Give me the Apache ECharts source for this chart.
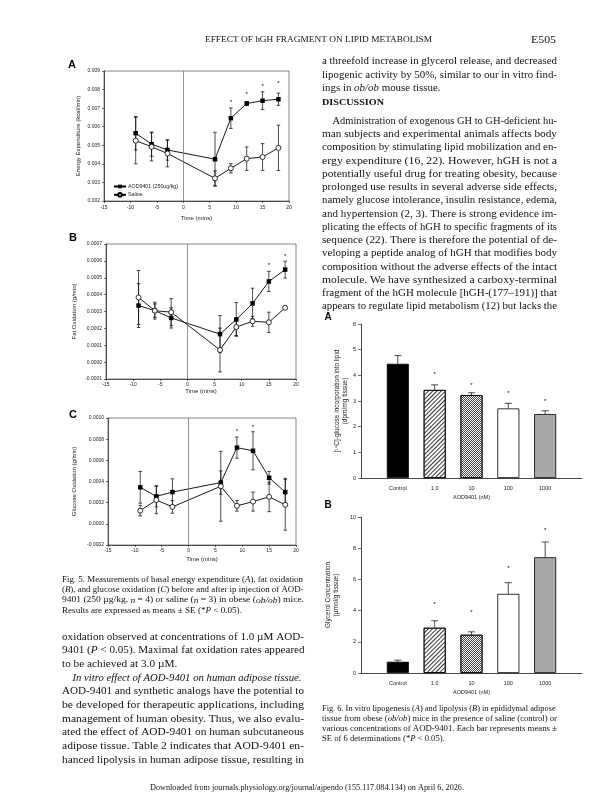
<!DOCTYPE html>
<html>
<head>
<meta charset="utf-8">
<script src="https://cdn.jsdelivr.net/npm/echarts@6.0.0/dist/echarts.min.js"></script>
<style>
  html, body { margin: 0; padding: 0; background: #fff; }
  #page { width: 616px; height: 800px; }
</style>
</head>
<body>
<div id="page"></div>
<script>
// ---- Fig. 5 data (time in minutes relative to injection) ----
const times = [-9, -6, -3, 6, 9, 12, 15, 18];

const energyAod = [0.00565, 0.00506, 0.00475, 0.00425, 0.00646, 0.00725, 0.0074, 0.00748];
const energyAodSe = [0.0009, 0.00065, 0.00055, 0.00145, 0.00055, 0.0001, 0.00048, 0.00033];
const energySal = [0.00525, 0.00492, 0.00456, 0.00322, 0.00376, 0.00428, 0.00437, 0.00486];
const energySalSe = [0.00125, 0.00076, 0.00072, 0.0004, 0.00025, 0.00063, 0.00072, 0.00122];
const energyStars = [null, null, null, null, 0.00729, 0.00776, 0.00817, 0.00835];

const fatAod = [0.000335, 0.000305, 0.000262, 0.000166, 0.000253, 0.000348, 0.000478, 0.000548];
const fatAodSe = [0.00013, 0.00004, 0.00006, 0.00011, 0.0001, 0.00009, 0.00006, 0.00005];
const fatSal = [0.000383, 0.000305, 0.000296, 0.000072, 0.000208, 0.000242, 0.000236, 0.000322];
const fatSalSe = [0.00016, 0.00005, 0.00008, 0.00013, 0.00005, 0.00003, 0.00006, 0.00001];
const fatStars = [null, null, null, null, null, null, 0.000572, 0.000629];

const glucAod = [0.000345, 0.00026, 0.0003, 0.00039, 0.00072, 0.00069, 0.000435, 0.0003];
const glucAodSe = [0.00015, 0.0001, 0.000125, 0.00011, 0.0001, 0.00018, 0.00006, 0.00013];
const glucSal = [0.000125, 0.000225, 0.00016, 0.000355, 0.00017, 0.00021, 0.000255, 0.00018];
const glucSalSe = [0.00005, 0.00013, 0.00006, 0.00033, 0.00005, 0.00009, 0.00014, 0.00024];
const glucStars = [null, null, null, null, 0.000873, 0.000914, null, null];

// ---- Fig. 6 data ----
const doses = ['Control', '1.0', '10', '100', '1000'];
const lipogenesis = [4.45, 3.43, 3.23, 2.71, 2.49];
const lipogenesisSe = [0.32, 0.2, 0.09, 0.2, 0.13];
const lipogenesisStars = [null, 4.05, 3.6, 3.28, 2.98];
const glycerol = [0.72, 2.9, 2.45, 5.07, 7.42];
const glycerolSe = [0.1, 0.45, 0.19, 0.72, 0.98];
const glycerolStars = [null, 4.4, 3.92, 6.72, 9.15];

const ink = '#1a1a1a';
const sans = 'Liberation Sans';
const serif = 'Liberation Serif';

const barStyles = [
  { color: '#000' },
  { color: '#fff', decal: { symbol: 'rect', color: '#333', dashArrayX: [1, 0], dashArrayY: [0.8, 1.6], rotation: -Math.PI / 4, symbolSize: 1 } },
  { color: '#fff', decal: { symbol: 'rect', color: '#444', dashArrayX: [[1, 1], [0, 1, 1, 0]], dashArrayY: [1, 0], symbolSize: 1 } },
  { color: '#fff' },
  { color: '#a9a9a9' }
];

function pairs(xs, ys) { return xs.map((x, i) => [x, ys[i]]); }
function bars(xs, m, se, upOnly) {
  return xs.map((x, i) => [x, upOnly ? m[i] : m[i] - se[i], m[i] + se[i]]);
}
function starPts(xs, s) { return xs.map((x, i) => [x, s[i]]).filter(d => d[1] != null); }

function errSeries(gi, data, cap, upOnly, z) {
  return {
    type: 'custom', xAxisIndex: gi, yAxisIndex: gi, z: z, silent: true, data: data,
    renderItem: (p, api) => {
      const x = api.value(0);
      const a = api.coord([x, api.value(1)]);
      const b = api.coord([x, api.value(2)]);
      const s = { stroke: '#000', lineWidth: 0.7 };
      const kids = [
        { type: 'line', shape: { x1: a[0], y1: a[1], x2: b[0], y2: b[1] }, style: s },
        { type: 'line', shape: { x1: b[0] - cap, y1: b[1], x2: b[0] + cap, y2: b[1] }, style: s }
      ];
      if (!upOnly) kids.push({ type: 'line', shape: { x1: a[0] - cap, y1: a[1], x2: a[0] + cap, y2: a[1] }, style: s });
      return { type: 'group', children: kids };
    }
  };
}

function starSeries(gi, data, size) {
  return {
    type: 'custom', xAxisIndex: gi, yAxisIndex: gi, z: 5, silent: true, data: data,
    renderItem: (p, api) => {
      const c = api.coord([api.value(0), api.value(1)]);
      return { type: 'text', x: c[0], y: c[1], style: { text: '*', fill: '#000', fontSize: size, fontFamily: sans, align: 'center', verticalAlign: 'middle' } };
    }
  };
}

function fig5Lines(gi, aod, aodSe, sal, salSe, stars, names) {
  return [
    errSeries(gi, bars(times, sal, salSe, false), 1.8, false, 1),
    errSeries(gi, bars(times, aod, aodSe, false), 1.8, false, 1),
    {
      type: 'line', name: names[0], xAxisIndex: gi, yAxisIndex: gi, z: 3,
      data: pairs(times, aod), symbol: 'rect', symbolSize: 4.5,
      itemStyle: { color: '#000' }, lineStyle: { color: '#000', width: 0.9 },
      markLine: {
        silent: true, symbol: 'none', label: { show: false },
        lineStyle: { color: '#777', type: 'solid', width: 0.8 },
        data: [{ xAxis: 0 }]
      }
    },
    {
      type: 'line', name: names[1], xAxisIndex: gi, yAxisIndex: gi, z: 3,
      data: pairs(times, sal), symbol: 'circle', symbolSize: 5,
      itemStyle: { color: '#fff', borderColor: '#000', borderWidth: 0.8 },
      lineStyle: { color: '#000', width: 0.9 }
    },
    starSeries(gi, starPts(times, stars), 6)
  ];
}

function fig6Bars(gi, m, se, stars) {
  return [
    {
      type: 'bar', xAxisIndex: gi, yAxisIndex: gi, barWidth: 22, z: 2,
      data: doses.map((d, i) => ({
        value: [i + 1, m[i]],
        itemStyle: Object.assign({ borderColor: '#000', borderWidth: 0.8 }, barStyles[i])
      }))
    },
    errSeries(gi, bars(doses.map((d, i) => i + 1), m, se, true), 3.5, true, 3),
    starSeries(gi, starPts(doses.map((d, i) => i + 1), stars), 6)
  ];
}

function fmt(dec) {
  return v => (Math.abs(v) < 1e-12 ? 0 : v).toFixed(dec);
}

function timeAxis(gi, gap, margin) {
  return {
    type: 'value', gridIndex: gi, min: -15, max: 20, interval: 5,
    name: 'Time (mins)', nameLocation: 'middle', nameGap: gap,
    nameTextStyle: { fontSize: 6, color: ink, fontFamily: sans },
    axisLine: { onZero: false, lineStyle: { color: ink, width: 0.7 } },
    axisTick: { length: 2, lineStyle: { color: ink, width: 0.6 } },
    axisLabel: { fontSize: 5, margin: margin, color: ink, fontFamily: sans },
    splitLine: { show: false }
  };
}

function fig5Y(gi, name, min, max, step, dec, gap) {
  return {
    type: 'value', gridIndex: gi, min: min, max: max, interval: step,
    name: name, nameLocation: 'middle', nameRotate: 90, nameGap: gap,
    nameTextStyle: { fontSize: 6, color: ink, fontFamily: sans },
    axisLine: { show: true, onZero: false, lineStyle: { color: ink, width: 0.7 } },
    axisTick: { show: true, length: 2, lineStyle: { color: ink, width: 0.6 } },
    axisLabel: { fontSize: 5, margin: 4, color: ink, fontFamily: sans, formatter: fmt(dec) },
    splitLine: { show: false }
  };
}

function doseAxis(gi) {
  return {
    type: 'category', gridIndex: gi, boundaryGap: false,
    data: [''].concat(doses, ['']),
    name: 'AOD9401 (nM)', nameLocation: 'middle', nameGap: 16,
    nameTextStyle: { fontSize: 5.5, color: ink, fontFamily: sans },
    axisLine: { onZero: false, lineStyle: { color: ink, width: 0.8 } },
    axisTick: { show: false },
    axisLabel: { interval: 0, fontSize: 5.5, margin: 7, color: ink, fontFamily: sans },
    splitLine: { show: false }
  };
}

function fig6Y(gi, name, max, step, gap) {
  return {
    type: 'value', gridIndex: gi, min: 0, max: max, interval: step,
    name: name, nameLocation: 'middle', nameRotate: 90, nameGap: gap,
    nameTextStyle: { fontSize: 6.5, color: ink, fontFamily: sans, lineHeight: 8 },
    axisLine: { show: true, onZero: false, lineStyle: { color: ink, width: 0.8 } },
    axisTick: { show: true, length: 3, lineStyle: { color: ink, width: 0.6 } },
    axisLabel: { fontSize: 5.5, margin: 5, color: ink, fontFamily: sans },
    splitLine: { show: false }
  };
}

// ---- page text ----
const ctx = document.createElement('canvas').getContext('2d');
function richFor(size) {
  return {
    i: { fontStyle: 'italic', fontSize: size, fontFamily: serif, fill: '#111' },
    b: { fontWeight: 'bold', fontSize: size, fontFamily: serif, fill: '#111' }
  };
}
function measure(text, size, weight) {
  ctx.font = (weight || 'normal') + ' ' + size + 'px "' + serif + '"';
  return ctx.measureText(text.replace(/\{\w+\|([^}]*)\}/g, '$1')).width;
}
function block(lines, x0, y0, step, width, size) {
  const items = lines.map((raw, i) => {
    let t = raw, indent = 0, ragged = false;
    if (t[0] === '>') { t = t.slice(1); indent = size; }
    if (t.endsWith('~')) { t = t.slice(0, -1); ragged = true; }
    return { t: t, indent: indent, ragged: ragged, w: measure(t, size), y: y0 + i * step };
  });
  const fits = items.filter(d => !d.ragged).map(d => (width - d.indent) / d.w);
  const avg = fits.reduce((a, b) => a + b, 0) / Math.max(fits.length, 1);
  return items.map(d => ({
    type: 'text', x: x0 + d.indent, y: d.y, silent: true, z: 10,
    scaleX: d.ragged ? avg : (width - d.indent) / d.w,
    style: { text: d.t, fontSize: size, fontFamily: serif, fill: '#111', verticalAlign: 'middle', rich: richFor(size) }
  }));
}
function fitText(text, x, y, width, size, weight) {
  return {
    type: 'text', x: x, y: y, silent: true, z: 10,
    scaleX: width / measure(text, size, weight),
    style: { text: text, fontSize: size, fontFamily: serif, fontWeight: weight || 'normal', fill: '#111', verticalAlign: 'middle' }
  };
}
function letter(t, x, y, size) {
  return { type: 'text', x: x, y: y, silent: true, z: 10, style: { text: t, fontSize: size, fontFamily: sans, fontWeight: 'bold', fill: '#000', verticalAlign: 'middle', align: 'center' } };
}

const rightTop = [
  'a threefold increase in glycerol release, and decreased',
  'lipogenic activity by 50%, similar to our in vitro find-',
  'ings in {i|ob/ob} mouse tissue.~'
];
const discussion = [
  '>Administration of exogenous GH to GH-deficient hu-',
  'man subjects and experimental animals affects body',
  'composition by stimulating lipid mobilization and en-',
  'ergy expenditure (16, 22). However, hGH is not a',
  'potentially useful drug for treating obesity, because',
  'prolonged use results in several adverse side effects,',
  'namely glucose intolerance, insulin resistance, edema,',
  'and hypertension (2, 3). There is strong evidence im-',
  'plicating the effects of hGH to specific fragments of its',
  'sequence (22). There is therefore the potential of de-',
  'veloping a peptide analog of hGH that modifies body',
  'composition without the adverse effects of the intact',
  'molecule. We have synthesized a carboxy-terminal',
  'fragment of the hGH molecule [hGH-(177\u2013191)] that',
  'appears to regulate lipid metabolism (12) but lacks the'
];
const leftBody = [
  'oxidation observed at concentrations of 1.0 \u00B5M AOD-',
  '9401 ({i|P} < 0.05). Maximal fat oxidation rates appeared',
  'to be achieved at 3.0 \u00B5M.~',
  '>{i|In vitro effect of AOD-9401 on human adipose tissue.}',
  'AOD-9401 and synthetic analogs have the potential to',
  'be developed for therapeutic applications, including',
  'management of human obesity. Thus, we also evalu-',
  'ated the effect of AOD-9401 on human subcutaneous',
  'adipose tissue. Table 2 indicates that AOD-9401 en-',
  'hanced lipolysis in human adipose tissue, resulting in'
];
const fig5Caption = [
  'Fig. 5. Measurements of basal energy expenditure ({i|A}), fat oxidation',
  '({i|B}), and glucose oxidation ({i|C}) before and after ip injection of AOD-',
  '9401 (250 \u00B5g/kg, {i|n} = 4) or saline ({i|n} = 3) in obese ({i|ob/ob}) mice.',
  'Results are expressed as means \u00B1 SE (*{i|P} < 0.05).~'
];
const fig6Caption = [
  'Fig. 6. In vitro lipogenesis ({i|A}) and lipolysis ({i|B}) in epididymal adipose',
  'tissue from obese ({i|ob/ob}) mice in the presence of saline (control) or',
  'various concentrations of AOD-9401. Each bar represents means \u00B1',
  'SE of 6 determinations (*{i|P} < 0.05).~'
];

const graphics = [].concat(
  [fitText('EFFECT OF hGH FRAGMENT ON LIPID METABOLISM', 205, 40, 227, 7.5)],
  [fitText('E505', 531, 40, 25, 10.5)],
  block(rightTop, 322, 61.5, 13.6, 235, 10.5),
  [fitText('DISCUSSION', 322, 103, 62, 7.5, 'bold')],
  block(discussion, 322, 121, 13.25, 235, 10.5),
  block(leftBody, 62, 637, 13.67, 242, 10.5),
  block(fig5Caption, 62, 580, 10.2, 242, 8),
  block(fig6Caption, 322, 709, 10, 235, 8),
  [fitText('Downloaded from journals.physiology.org/journal/ajpendo (155.117.084.134) on April 6, 2026.', 150, 788, 314, 7.5)],
  [letter('A', 72, 65, 11), letter('B', 73, 238, 11), letter('C', 73, 415, 11),
   letter('A', 328, 317, 10), letter('B', 328, 505, 10)]
);

const fig5Border = { show: true, borderColor: '#333', borderWidth: 0.6, backgroundColor: 'transparent' };

const chart = echarts.init(document.getElementById('page'), null, { renderer: 'canvas' });
chart.setOption({
  animation: false,
  backgroundColor: '#fff',
  textStyle: { fontFamily: sans },
  grid: [
    Object.assign({ left: 104, top: 71, width: 185, height: 130 }, fig5Border),
    Object.assign({ left: 106, top: 244, width: 190, height: 135 }, fig5Border),
    Object.assign({ left: 108, top: 418, width: 188, height: 127 }, fig5Border),
    { left: 361, top: 324, width: 221, height: 154 },
    { left: 361, top: 517, width: 221, height: 156 }
  ],
  xAxis: [timeAxis(0, 14, 4), timeAxis(1, 9, 3), timeAxis(2, 11, 3), doseAxis(3), doseAxis(4)],
  yAxis: [
    fig5Y(0, 'Energy Expenditure (kcal/min)', 0.002, 0.009, 0.001, 3, 23),
    fig5Y(1, 'Fat Oxidation (g/min)', -0.0001, 0.0007, 0.0001, 4, 29),
    fig5Y(2, 'Glucose Oxidation (g/min)', -0.0002, 0.001, 0.0002, 4, 31),
    fig6Y(3, '[\u00B9\u2074C]-glucose incorporation into lipid\n(dpm/mg tissue)', 6, 1, 12),
    fig6Y(4, 'Glycerol Concentration\n(\u00B5mol/g tissue)', 10, 2, 21)
  ],
  legend: {
    data: ['AOD9401 (250ug/kg)', 'Saline'],
    orient: 'vertical', left: 108, top: 179,
    itemWidth: 12, itemHeight: 4.5, itemGap: 3,
    textStyle: { fontSize: 5.3, color: ink, fontFamily: sans, padding: [0, 0, 0, -3] },
    selectedMode: false
  },
  series: [].concat(
    fig5Lines(0, energyAod, energyAodSe, energySal, energySalSe, energyStars, ['AOD9401 (250ug/kg)', 'Saline']),
    fig5Lines(1, fatAod, fatAodSe, fatSal, fatSalSe, fatStars, ['AOD fat', 'Saline fat']),
    fig5Lines(2, glucAod, glucAodSe, glucSal, glucSalSe, glucStars, ['AOD glucose', 'Saline glucose']),
    fig6Bars(3, lipogenesis, lipogenesisSe, lipogenesisStars),
    fig6Bars(4, glycerol, glycerolSe, glycerolStars)
  ),
  graphic: graphics
});
</script>
</body>
</html>
